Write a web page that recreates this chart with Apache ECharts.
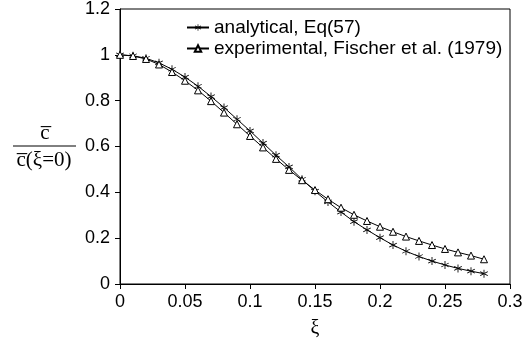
<!DOCTYPE html>
<html>
<head>
<meta charset="utf-8">
<script src="https://cdn.jsdelivr.net/npm/echarts@6/dist/echarts.min.js"></script>
<style>
  html, body { margin: 0; padding: 0; background: #fff; }
  #chart { width: 529px; height: 343px; }
</style>
</head>
<body>
<div id="chart"></div>
<script>
// xi positions (step 0.01)
const xi = [0, 0.01, 0.02, 0.03, 0.04, 0.05, 0.06, 0.07, 0.08, 0.09,
  0.10, 0.11, 0.12, 0.13, 0.14, 0.15, 0.16, 0.17, 0.18, 0.19,
  0.20, 0.21, 0.22, 0.23, 0.24, 0.25, 0.26, 0.27, 0.28]

// analytical, Eq(57)
const analytical = [1.0, 0.996, 0.985, 0.965, 0.937, 0.903, 0.863, 0.818, 0.770, 0.719,
  0.668, 0.615, 0.562, 0.511, 0.457, 0.405, 0.358, 0.314, 0.272, 0.236,
  0.202, 0.170, 0.143, 0.120, 0.100, 0.083, 0.068, 0.056, 0.045]

// experimental, Fischer et al. (1979)
const experimental = [1.0, 0.995, 0.982, 0.958, 0.925, 0.887, 0.845, 0.798, 0.748, 0.697,
  0.646, 0.596, 0.546, 0.498, 0.453, 0.410, 0.370, 0.333, 0.302, 0.275,
  0.250, 0.228, 0.207, 0.188, 0.170, 0.153, 0.138, 0.124, 0.108]

const seriesNames = ['analytical, Eq(57)', 'experimental, Fischer et al. (1979)']

// asterisk marker
const STAR = 'path://M4.5,0L5.5,0L5.5,10L4.5,10Z M0.92,2.07L9.58,7.07L9.08,7.93L0.42,2.93Z M0.92,7.93L9.58,2.93L9.08,2.07L0.42,7.07Z'

const pairs = (ys) => xi.map((x, i) => [x, ys[i]])

const axisFont = { fontFamily: 'Liberation Sans', fontSize: 18, color: '#000' }

let chart = echarts.init(document.getElementById('chart'))

chart.setOption({
  animation: false,
  backgroundColor: '#fff',
  grid: {
    left: 120, right: 19, top: 9, bottom: 59,
    show: true, borderColor: '#000', borderWidth: 1
  },
  legend: {
    orient: 'vertical',
    left: 181, top: 13,
    itemWidth: 22, itemHeight: 8, itemGap: 2,
    textStyle: { fontFamily: 'Liberation Sans', fontSize: 19, color: '#000' },
    data: seriesNames
  },
  xAxis: {
    type: 'value', min: 0, max: 0.3, interval: 0.05,
    axisLine: { onZero: false, lineStyle: { color: '#000' } },
    axisTick: { length: 5, lineStyle: { color: '#000' } },
    axisLabel: Object.assign({ margin: 9 }, axisFont),
    splitLine: { show: false }
  },
  yAxis: {
    type: 'value', min: 0, max: 1.2, interval: 0.2,
    axisLine: { show: true, lineStyle: { color: '#000' } },
    axisTick: { show: true, length: 5, lineStyle: { color: '#000' } },
    axisLabel: Object.assign({ margin: 10 }, axisFont),
    splitLine: { show: false }
  },
  graphic: [
    { type: 'text', x: 315, y: 329,
      style: { text: 'ξ', font: '20px "Liberation Serif"', fill: '#000', align: 'center', verticalAlign: 'middle' } },
    { type: 'text', x: 45, y: 133,
      style: { text: 'c\u0305', font: '21px "Liberation Serif"', fill: '#000', align: 'center', verticalAlign: 'middle' } },
    { type: 'line', shape: { x1: 13, y1: 146, x2: 76, y2: 146 }, style: { stroke: '#000', lineWidth: 1 } },
    { type: 'text', x: 44, y: 160,
      style: { text: 'c\u0305(ξ=0)', font: '21px "Liberation Serif"', fill: '#000', align: 'center', verticalAlign: 'middle' } }
  ],
  series: [
    {
      name: seriesNames[0], type: 'line', data: pairs(analytical),
      symbol: STAR, symbolSize: 8, showAllSymbol: true,
      lineStyle: { color: '#000', width: 1 },
      itemStyle: { color: '#000' }
    },
    {
      name: seriesNames[1], type: 'line', data: pairs(experimental),
      symbol: 'triangle', symbolSize: 7, showAllSymbol: true,
      lineStyle: { color: '#000', width: 1 },
      itemStyle: { color: '#fff', borderColor: '#000', borderWidth: 1 }
    }
  ]
})
</script>
</body>
</html>
